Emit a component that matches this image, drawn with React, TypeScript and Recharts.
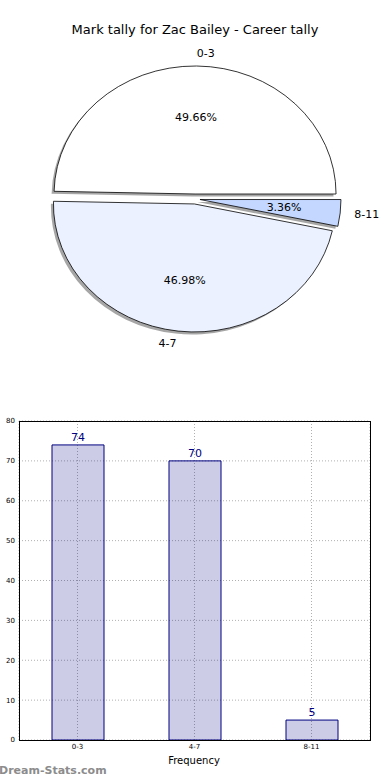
import React from 'react';
import { PieChart, Pie, BarChart, Bar, XAxis, YAxis, CartesianGrid, LabelList } from 'recharts';

const title = 'Mark tally for Zac Bailey - Career tally';
const categories = ['0-3', '4-7', '8-11'];
const counts = [74, 70, 5];
const sliceColors = ['#ffffff', '#ebf1ff', '#c4d7ff'];
const yTicks = [0, 10, 20, 30, 40, 50, 60, 70, 80];
const xAxisTitle = 'Frequency';
const watermark = 'Dream-Stats.com';

const FONT = '"DejaVu Sans", Verdana, sans-serif';
const RAD = Math.PI / 180;
const RY_RATIO = 128 / 141;
const EXPLODE = 5;
const SHADOW = 2.5;

const total = counts.reduce((a, b) => a + b, 0);
const pieData = categories.map((name, i) => ({ name, value: counts[i] }));
const barData = categories.map((name, i) => ({ name, value: counts[i] }));

function wedgePath(cx: number, cy: number, rx: number, ry: number, a0: number, a1: number) {
  const x1 = cx + rx * Math.cos(a0 * RAD);
  const y1 = cy - ry * Math.sin(a0 * RAD);
  const x2 = cx + rx * Math.cos(a1 * RAD);
  const y2 = cy - ry * Math.sin(a1 * RAD);
  const large = Math.abs(a1 - a0) > 180 ? 1 : 0;
  return `M${cx},${cy} L${x1},${y1} A${rx},${ry} 0 ${large} 0 ${x2},${y2} Z`;
}

function geom(p: any) {
  const rx = p.outerRadius;
  const ry = rx * RY_RATIO;
  const mid = (p.startAngle + p.endAngle) / 2;
  const ox = p.cx + EXPLODE * Math.cos(mid * RAD);
  const oy = p.cy - EXPLODE * Math.sin(mid * RAD);
  return { rx, ry, mid, ox, oy };
}

const renderShadow = (p: any) => {
  const { rx, ry, ox, oy } = geom(p);
  return (
    <path
      d={wedgePath(ox - SHADOW, oy + SHADOW, rx, ry, p.startAngle, p.endAngle)}
      fill="#4d4d4d"
      fillOpacity={0.5}
      stroke="none"
    />
  );
};

const renderWedge = (p: any) => {
  const { rx, ry, mid, ox, oy } = geom(p);
  const c = Math.cos(mid * RAD);
  const s = Math.sin(mid * RAD);
  const lx = ox + 1.1 * rx * c;
  const ly = oy - 1.1 * ry * s;
  const px = ox + 0.6 * rx * c;
  const py = oy - 0.6 * ry * s;
  const idx = p.index ?? 0;
  const name = categories[idx];
  const pct = ((counts[idx] / total) * 100).toFixed(2) + '%';
  return (
    <g>
      <path
        d={wedgePath(ox, oy, rx, ry, p.startAngle, p.endAngle)}
        fill={sliceColors[idx]}
        stroke="#000"
        strokeWidth={0.8}
      />
      <text x={lx} y={ly} textAnchor={c > 0 ? 'start' : 'end'} dominantBaseline="central" fontSize={11} fontFamily={FONT} fill="#000">
        {name}
      </text>
      <text x={px} y={py} textAnchor="middle" dominantBaseline="central" fontSize={11} fontFamily={FONT} fill="#000">
        {pct}
      </text>
    </g>
  );
};

export default function App() {
  return (
    <div style={{ position: 'absolute', left: 0, top: 0, width: 390, height: 780, background: '#fff', fontFamily: FONT, overflow: 'hidden' }}>
      <div style={{ position: 'absolute', top: 22, left: 0, width: 390, textAlign: 'center', fontSize: 13, lineHeight: '16px', color: '#000' }}>
        {title}
      </div>
      <div style={{ position: 'absolute', top: 0, left: 0 }}>
        <PieChart width={390} height={400} margin={{ top: 0, right: 0, bottom: 0, left: 0 }}>
          <Pie
            data={pieData}
            dataKey="value"
            nameKey="name"
            cx={195}
            cy={199}
            outerRadius={141}
            startAngle={0}
            endAngle={360}
            fill="none"
            stroke="none"
            label={renderShadow}
            labelLine={false}
            isAnimationActive={false}
          />
          <Pie
            data={pieData}
            dataKey="value"
            nameKey="name"
            cx={195}
            cy={199}
            outerRadius={141}
            startAngle={0}
            endAngle={360}
            fill="none"
            stroke="none"
            label={renderWedge}
            labelLine={false}
            isAnimationActive={false}
          />
        </PieChart>
      </div>
      <div style={{ position: 'absolute', top: 400, left: 0 }}>
        <BarChart width={390} height={380} data={barData} margin={{ top: 21, right: 20, bottom: 0, left: 0 }}>
          <CartesianGrid stroke="#b0b0b0" strokeDasharray="1 2" />
          <XAxis
            dataKey="name"
            height={40}
            axisLine={false}
            tickLine={false}
            tickSize={0}
            tickMargin={4}
            tick={{ fontSize: 7, fill: '#000', fontFamily: FONT }}
          />
          <YAxis
            width={19}
            domain={[0, 80]}
            ticks={yTicks}
            axisLine={false}
            tickLine={false}
            tickSize={0}
            tickMargin={4}
            tick={{ fontSize: 7, fill: '#000', fontFamily: FONT }}
          />
          <Bar dataKey="value" fill="#000080" fillOpacity={0.2} stroke="#000080" strokeWidth={1} barSize={52} isAnimationActive={false}>
            <LabelList dataKey="value" position="top" offset={4} fill="#000080" fontSize={11} fontFamily={FONT} />
          </Bar>
        </BarChart>
      </div>
      <div style={{ position: 'absolute', left: 19, top: 421, width: 352, height: 320, border: '1px solid #000', boxSizing: 'border-box', pointerEvents: 'none' }} />
      <div style={{ position: 'absolute', top: 754, left: 0, width: 390, textAlign: 'center', fontSize: 10, lineHeight: '14px', color: '#000' }}>
        <span style={{ position: 'relative', left: -1 }}>{xAxisTitle}</span>
      </div>
      <div style={{ position: 'absolute', top: 764, left: -1, fontSize: 11, fontWeight: 'bold', lineHeight: '14px', color: '#8c8c8c' }}>
        {watermark}
      </div>
    </div>
  );
}
